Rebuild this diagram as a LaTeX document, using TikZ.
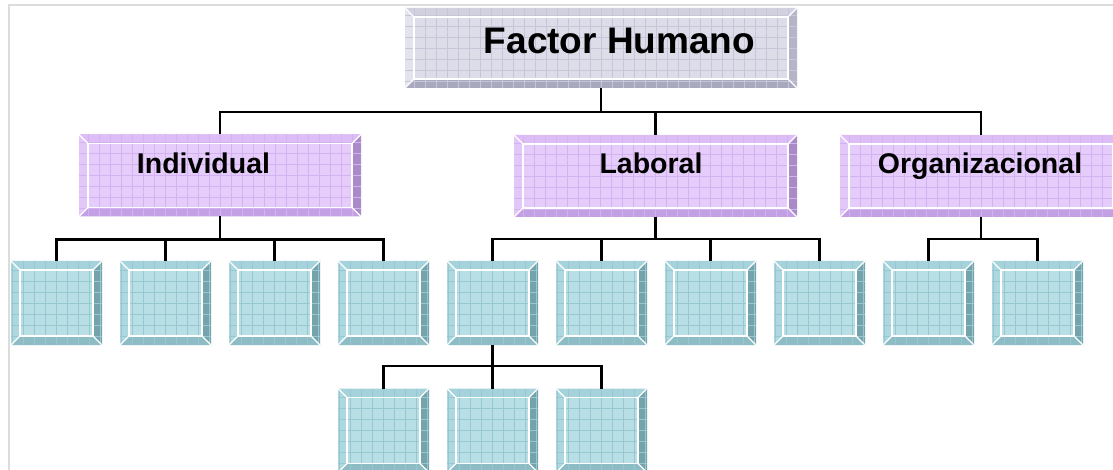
\documentclass[tikz,border=0pt]{standalone}
\usepackage{fontspec}
\setmainfont{Liberation Sans}
\usetikzlibrary{calc}

% colour families: face, bevel faces, grid
\definecolor{gyface}{HTML}{DDDDE9}
\definecolor{gytop}{HTML}{D1D1E0}
\definecolor{gyleft}{HTML}{E3E3EE}
\definecolor{gyright}{HTML}{B5B5C8}
\definecolor{gybottom}{HTML}{A9A9BD}
\definecolor{gygrid}{HTML}{C6C6D8}

\definecolor{pkface}{HTML}{E6CCFA}
\definecolor{pktop}{HTML}{DCBDF6}
\definecolor{pkleft}{HTML}{E2C7F9}
\definecolor{pkright}{HTML}{A98BC8}
\definecolor{pkbottom}{HTML}{C3A0E4}
\definecolor{pkgrid}{HTML}{D3B2F1}

\definecolor{tlface}{HTML}{B9DFE6}
\definecolor{tltop}{HTML}{A6D3DB}
\definecolor{tlleft}{HTML}{AED8DF}
\definecolor{tlright}{HTML}{74A3AB}
\definecolor{tlbottom}{HTML}{8DBCC4}
\definecolor{tlgrid}{HTML}{97C8D1}

\definecolor{framegray}{HTML}{DCDCDC}

\tikzset{
  bevelbox/.style={
    rectangle, inner sep=0pt, outer sep=0pt, fill=#1face,
    path picture={
      \coordinate (bsw) at (path picture bounding box.south west);
      \coordinate (bne) at (path picture bounding box.north east);
      \coordinate (isw) at ([shift={(9pt,9pt)}]bsw);
      \coordinate (ine) at ([shift={(-9pt,-9pt)}]bne);
      \fill[#1top] (bsw|-bne) -- (bne) -- (ine) -- (isw|-ine) -- cycle;
      \fill[#1bottom] (bsw) -- (bne|-bsw) -- (ine|-isw) -- (isw) -- cycle;
      \fill[#1left] (bsw) -- (bsw|-bne) -- (isw|-ine) -- (isw) -- cycle;
      \fill[#1right] (bne|-bsw) -- (bne) -- (ine) -- (ine|-isw) -- cycle;
      \draw[#1grid, line width=0.55pt] (bsw) grid[step=11pt] (bne);
      \draw[white, line width=1.4pt] (isw) rectangle (ine);
      \draw[white, line width=1.2pt] (bsw) -- (isw) (bne) -- (ine)
        (bsw|-bne) -- (isw|-ine) (bne|-bsw) -- (ine|-isw);
    }
  },
  headbox/.style={bevelbox=gy, minimum width=392pt, minimum height=80pt},
  groupbox/.style={bevelbox=pk, minimum width=282pt, minimum height=82pt},
  leafbox/.style={bevelbox=tl, minimum width=91pt, minimum height=84pt},
  headtext/.style={anchor=base, font=\fontsize{37}{40}\selectfont\bfseries},
  grouptext/.style={anchor=base, font=\fontsize{28.5}{32}\selectfont\bfseries},
  link/.style={draw=black, line width=2.2pt},
}

\begin{document}
\begin{tikzpicture}[x=1pt, y=-1pt]
  \clip (0,0) rectangle (1113,470);
  \fill[white] (0,0) rectangle (1113,470);

  % thin outer frame
  \draw[framegray, line width=2pt] (9,471) -- (9,5) -- (1114,5);

  % top level
  \node[headbox] (top) at (601,48) {};
  \node[headtext] (ttop) at (619.5,53.3) {Factor Humano};

  % second level
  \node[groupbox] (ind) at (220,175.5) {};
  \node[groupbox, minimum width=283pt] (lab) at (655.5,176) {};
  \node[groupbox] (org) at (981,176) {};
  \node[grouptext] (tind) at (203.5,174) {Individual};
  \node[grouptext] (tlab) at (651,173.5) {Laboral};
  \node[grouptext] (torg) at (980,174) {Organizacional};

  % third level
  \foreach \i/\cx in {1/56.5,2/165.5,3/274.5,4/383.5,5/492.5,6/601.5,7/710.5,8/819.5,9/928.5,10/1037.5}
    \node[leafbox] (c\i) at (\cx,303) {};

  % fourth level
  \foreach \i/\cx in {1/383.5,2/492.5,3/601.5}
    \node[leafbox] (d\i) at (\cx,430.5) {};

  % connectors
  \foreach \n in {ind,lab,org}
    \draw[link] (top.south) -- ++(0,24) -| (\n.north);
  \foreach \n in {c1,c2,c3,c4}
    \draw[link] (ind.south) -- ++(0,23) -| (\n.north);
  \foreach \n in {c5,c6,c7,c8}
    \draw[link] (lab.south) -- ++(0,22) -| (\n.north);
  \foreach \n in {c9,c10}
    \draw[link] (org.south) -- ++(0,22) -| (\n.north);
  \foreach \n in {d1,d2,d3}
    \draw[link] (c5.south) -- ++(0,21) -| (\n.north);
\end{tikzpicture}
\end{document}
